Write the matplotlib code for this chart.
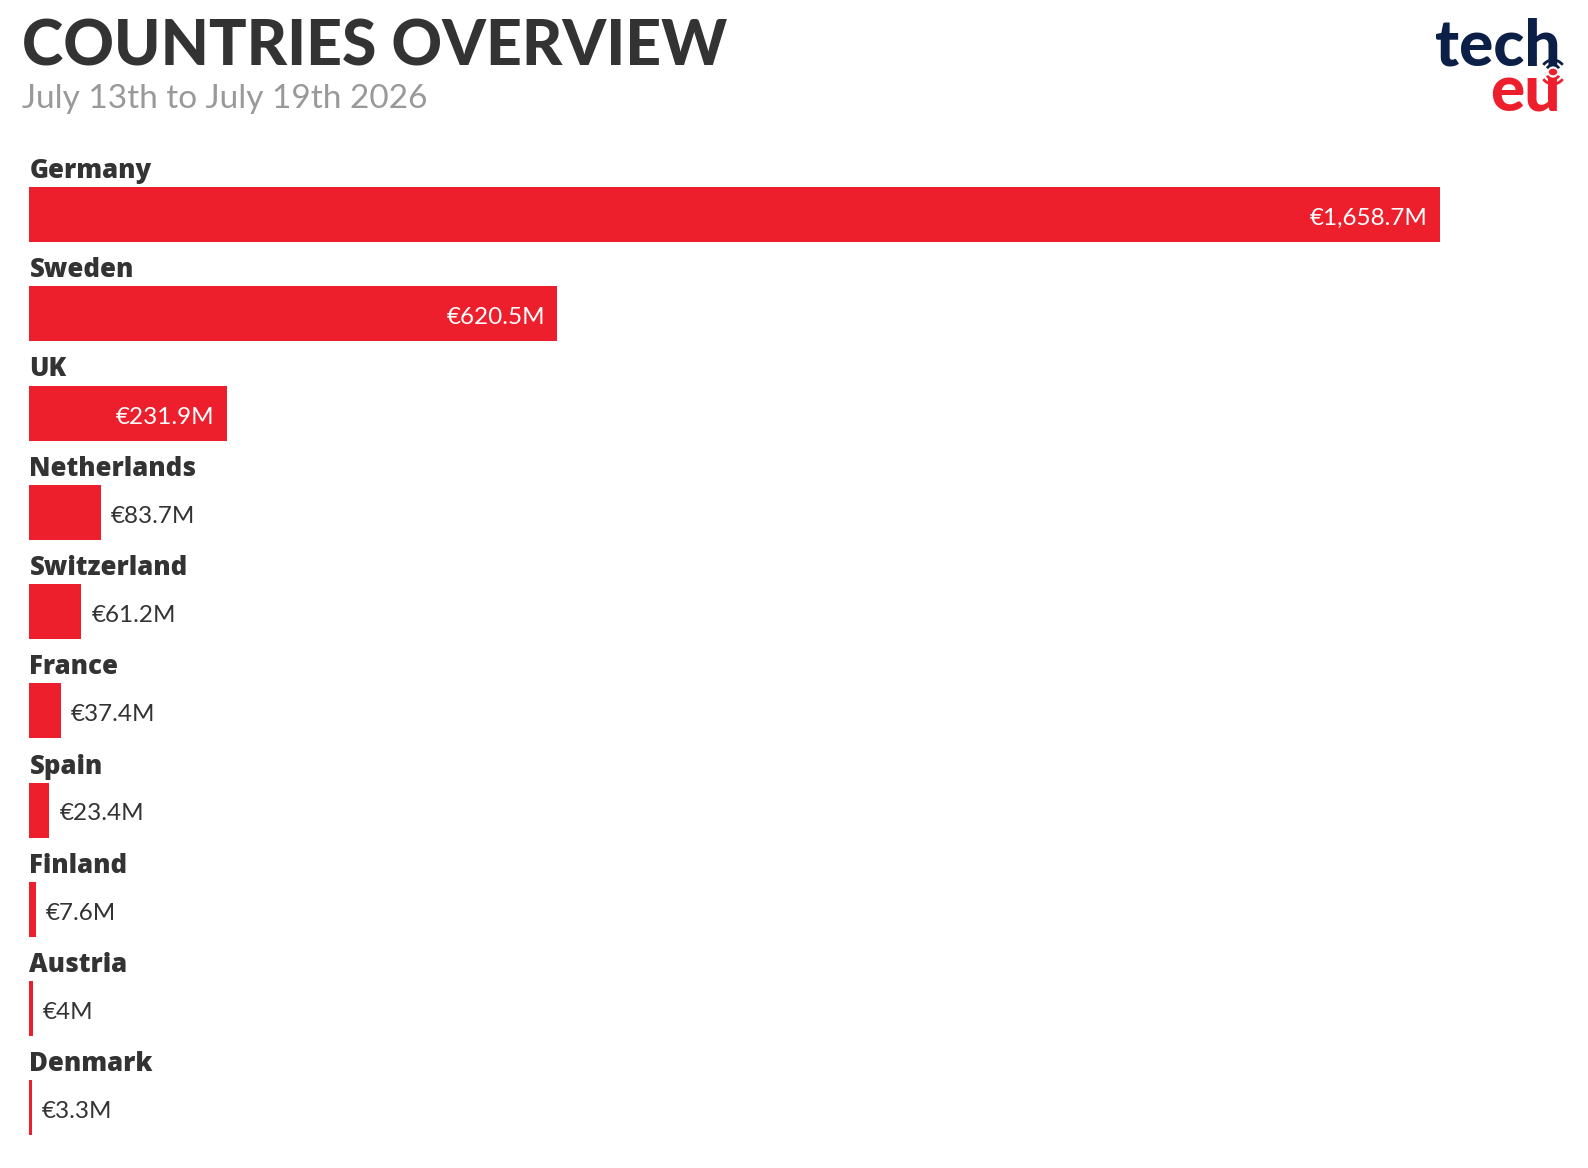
import matplotlib.pyplot as plt
from matplotlib.patches import Arc, Circle

countries = ['Germany', 'Sweden', 'UK', 'Netherlands', 'Switzerland',
             'France', 'Spain', 'Finland', 'Austria', 'Denmark']
amounts = [1658.7, 620.5, 231.9, 83.7, 61.2, 37.4, 23.4, 7.6, 4.0, 3.3]
value_labels = ['€1,658.7M', '€620.5M', '€231.9M', '€83.7M', '€61.2M',
                '€37.4M', '€23.4M', '€7.6M', '€4M', '€3.3M']

title = 'COUNTRIES OVERVIEW'
subtitle = 'July 13th to July 19th 2026'

RED = '#ee1f2d'
DARK = '#333333'
NAVY = '#0c1f47'
GREY = '#999999'

W, H = 1588, 1168
fig = plt.figure(figsize=(W / 100, H / 100), dpi=100)
fig.patch.set_facecolor('white')


def px(x, y):
    # figure pixel coords (from top-left) -> figure fraction
    return x / W, 1 - y / H


# axes: left 29.4px, right 1440px, one row = 99.25px
ax_left, ax_right = 29.4, 1440
row = 99.25
top_px = 214.5 - 0.65 * row
bot_px = 214.5 + 9.5 * row
ax = fig.add_axes([ax_left / W, 1 - bot_px / H, (ax_right - ax_left) / W,
                   (bot_px - top_px) / H])
ax.set_xlim(0, max(amounts))
ax.set_ylim(9.5, -0.65)
ax.axis('off')

bar_h = 55 / row
ax.barh(range(len(countries)), amounts, height=bar_h, color=RED)

pt = 72 / 100  # points per pixel
for i, (name, v, lab) in enumerate(zip(countries, amounts, value_labels)):
    ax.annotate(name, (0, i - bar_h / 2), xytext=(0, 9 * pt),
                textcoords='offset points', ha='left', va='baseline',
                fontsize=18.5, fontweight='heavy', color=DARK,
                family='Open Sans')
    if v > 150:
        ax.annotate(lab, (v, i), xytext=(-12 * pt, -10.5 * pt),
                    textcoords='offset points', ha='right', va='baseline',
                    fontsize=17.5, color='white', family='Lato')
    else:
        ax.annotate(lab, (v, i), xytext=(10 * pt, -10.5 * pt),
                    textcoords='offset points', ha='left', va='baseline',
                    fontsize=17.5, color=DARK, family='Lato')

# title block
fig.text(*px(22, 65), title, fontsize=45, fontweight='black', color=DARK,
         family='Lato', ha='left', va='baseline')
fig.text(*px(22, 108), subtitle, fontsize=24, color=GREY,
         family='Lato', ha='left', va='baseline')

# logo
fig.text(*px(1561, 65), 'tech', fontsize=46, fontweight='black', color=NAVY,
         family='Lato', ha='right', va='baseline')
fig.text(*px(1561, 112), 'eu', fontsize=46, fontweight='black', color=RED,
         family='Lato', ha='right', va='baseline')
cx, cy = 1553, 72
for r, th, col in [(7, (40, 140), NAVY), (12, (45, 135), NAVY),
                   (7, (220, 320), RED), (12, (225, 315), RED)]:
    fig.add_artist(Arc(px(cx, cy), r / W * 2, r / H * 2, theta1=th[0],
                       theta2=th[1], color=col, lw=2,
                       transform=fig.transFigure))
fig.add_artist(Circle(px(cx, cy), 3.5 / W, color=RED,
                      transform=fig.transFigure))

fig.savefig('out.png', dpi=100)
